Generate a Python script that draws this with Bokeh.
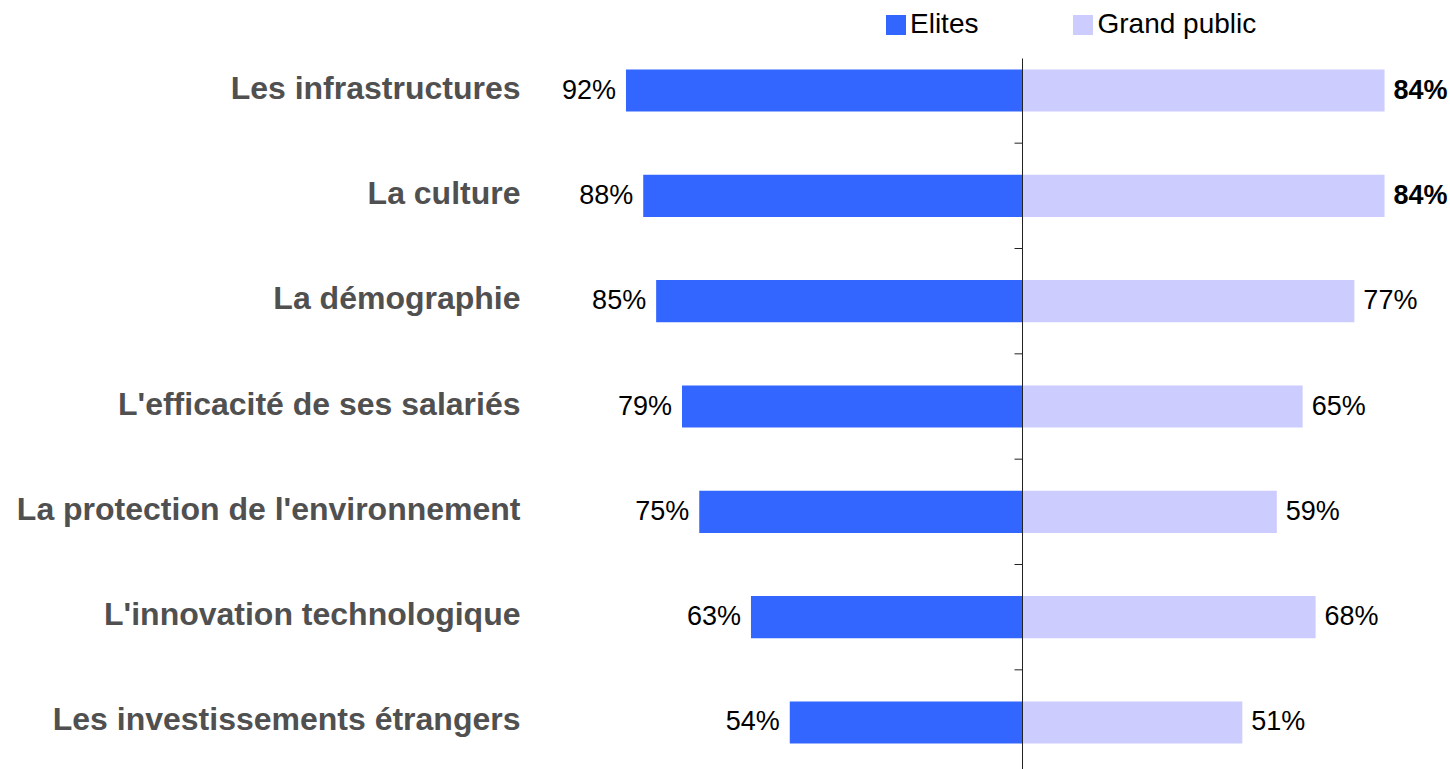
from bokeh.plotting import figure
from bokeh.models import ColumnDataSource, Range1d, Legend, LegendItem
from bokeh.core.properties import value
from bokeh.embed import file_html
from bokeh.resources import INLINE

# ---- data (top to bottom) ----
categories = [
    "Les infrastructures",
    "La culture",
    "La démographie",
    "L'efficacité de ses salariés",
    "La protection de l'environnement",
    "L'innovation technologique",
    "Les investissements étrangers",
]
elites = [92, 88, 85, 79, 75, 63, 54]
grand_public = [84, 84, 77, 65, 59, 68, 51]
series_names = ["Elites", "Grand public"]

# ---- layout / style ----
W, H = 1450, 769
KX = 4.31            # px per percentage point
CX = 1022            # canvas x of the zero line
KY = 105.33          # px per row
TOP_C, BOT_C = 90, 722
AXIS_TOP = 58
LABEL_RIGHT = 520
BLUE, LAV = "#3366FF", "#CCCCFF"
FONT = "Liberation Sans"

n = len(categories)
ypos = [n - 1 - i for i in range(n)]
y0 = -(H - BOT_C) / KY
y1 = (n - 1) + TOP_C / KY

p = figure(width=W, height=H, output_backend="svg", toolbar_location=None,
           min_border=0, x_axis_type=None, y_axis_type=None,
           x_range=Range1d(-CX / KX, (W - CX) / KX),
           y_range=Range1d(y0, y1))
p.outline_line_color = None
p.grid.visible = False
p.background_fill_color = "white"
p.border_fill_color = "white"

src = ColumnDataSource(dict(
    y=ypos, cat=categories,
    left=[-v for v in elites], right=grand_public,
    ltxt=[f"{v}%" for v in elites], rtxt=[f"{v}%" for v in grand_public],
    rstyle=["bold" if v == max(grand_public) else "normal" for v in grand_public],
))

r1 = p.hbar(y="y", left="left", right=0, height=0.4, color=BLUE, line_color=None, source=src)
r2 = p.hbar(y="y", left=0, right="right", height=0.4, color=LAV, line_color=None, source=src)

# zero line and tick marks between categories
p.segment(x0=[0], y0=[(n - 1) + (TOP_C - AXIS_TOP) / KY], x1=[0], y1=[y0 - 1],
          line_color="#222222", line_width=1)
ticks = [j + 0.5 for j in range(n - 1)]
p.segment(x0=[-8 / KX] * len(ticks), y0=ticks, x1=[0] * len(ticks), y1=ticks,
          line_color="#222222", line_width=1)

# value labels
p.text(x="left", y="y", text="ltxt", source=src, text_align="right", text_baseline="middle",
       x_offset=-10, y_offset=-1, text_font=value(FONT), text_font_size="27px",
       text_color="black")
p.text(x="right", y="y", text="rtxt", source=src, text_align="left", text_baseline="middle",
       x_offset=9, y_offset=-1, text_font=value(FONT), text_font_size="27px",
       text_color="black", text_font_style="rstyle")

# category labels
p.text(x=-(CX - LABEL_RIGHT) / KX, y="y", text="cat", source=src, text_align="right",
       text_baseline="middle", y_offset=-3, text_font=value(FONT), text_font_size="32px",
       text_font_style="bold", text_color="#505050")

legend = Legend(items=[LegendItem(label=series_names[0], renderers=[r1]),
                       LegendItem(label=series_names[1], renderers=[r2])],
                orientation="horizontal", location=(883, 729),
                glyph_width=25, glyph_height=25, label_standoff=2, spacing=92,
                padding=0, margin=0, border_line_color=None, background_fill_alpha=0,
                label_text_font=FONT, label_text_font_size="28px", label_text_color="black")
p.add_layout(legend)

open("out.html", "w").write(file_html(p, INLINE))
